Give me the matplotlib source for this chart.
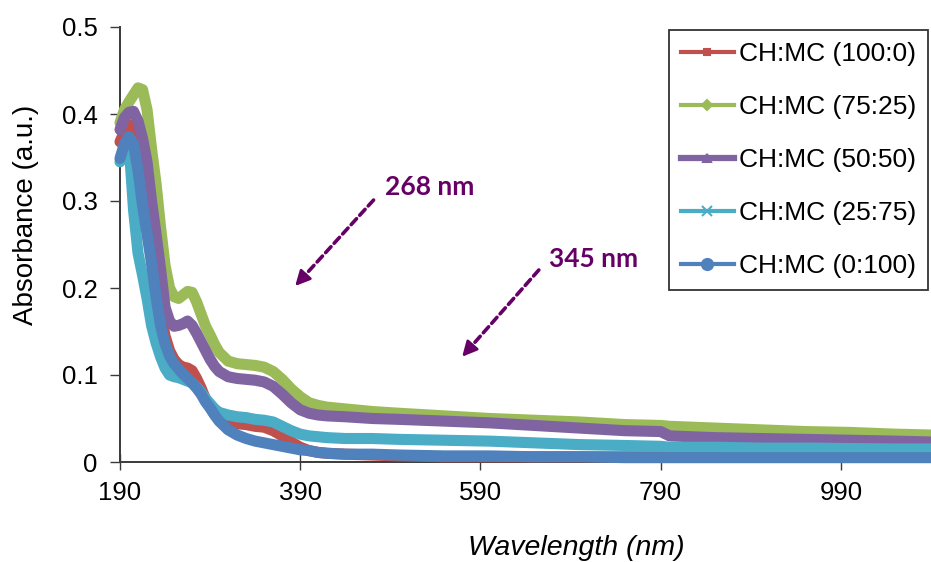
import matplotlib
matplotlib.use("Agg")
import matplotlib.pyplot as plt
from matplotlib.lines import Line2D
from matplotlib.ticker import FuncFormatter

plt.rcParams['font.family'] = ['Liberation Sans', 'DejaVu Sans']

wavelength = [190, 195, 200, 205, 210, 215, 220, 225, 230, 235, 240, 245, 250, 255,
              260, 265, 270, 275, 280, 285, 290, 295, 300, 310, 320, 330, 340, 350,
              360, 370, 380, 390, 400, 410, 420, 440, 470, 500, 550, 600, 650, 700,
              750, 790, 800, 850, 900, 950, 1000, 1050, 1090]

abs_100_0 = [0.368, 0.380, 0.388, 0.385, 0.360, 0.325, 0.290, 0.252, 0.210, 0.172,
             0.145, 0.128, 0.118, 0.112, 0.109, 0.108, 0.105, 0.096, 0.085, 0.072,
             0.063, 0.055, 0.050, 0.046, 0.044, 0.043, 0.041, 0.040, 0.036, 0.030,
             0.023, 0.017, 0.013, 0.011, 0.010, 0.009, 0.008, 0.007, 0.006, 0.006,
             0.006, 0.006, 0.006, 0.006, 0.006, 0.006, 0.006, 0.006, 0.006, 0.006, 0.006]

abs_75_25 = [0.390, 0.405, 0.414, 0.422, 0.430, 0.428, 0.405, 0.360, 0.320, 0.270,
             0.226, 0.200, 0.190, 0.188, 0.192, 0.196, 0.195, 0.184, 0.170, 0.156,
             0.146, 0.135, 0.126, 0.116, 0.113, 0.112, 0.111, 0.109, 0.104, 0.095,
             0.084, 0.075, 0.068, 0.065, 0.063, 0.061, 0.058, 0.056, 0.053, 0.050,
             0.048, 0.046, 0.043, 0.042, 0.041, 0.039, 0.037, 0.035, 0.034, 0.032, 0.031]

abs_50_50 = [0.382, 0.396, 0.402, 0.403, 0.392, 0.372, 0.345, 0.300, 0.262, 0.222,
             0.178, 0.162, 0.156, 0.157, 0.159, 0.162, 0.157, 0.148, 0.138, 0.128,
             0.118, 0.110, 0.104, 0.098, 0.096, 0.095, 0.094, 0.092, 0.087, 0.078,
             0.068, 0.060, 0.056, 0.054, 0.053, 0.052, 0.050, 0.049, 0.047, 0.045,
             0.042, 0.039, 0.036, 0.035, 0.030, 0.028, 0.027, 0.026, 0.025, 0.024, 0.023]

abs_25_75 = [0.345, 0.362, 0.366, 0.290, 0.240, 0.215, 0.188, 0.157, 0.137, 0.121,
             0.108, 0.100, 0.098, 0.097, 0.095, 0.093, 0.091, 0.086, 0.080, 0.073,
             0.067, 0.061, 0.057, 0.054, 0.052, 0.051, 0.049, 0.048, 0.046, 0.041,
             0.036, 0.032, 0.030, 0.029, 0.028, 0.027, 0.027, 0.026, 0.025, 0.024,
             0.022, 0.020, 0.019, 0.018, 0.017, 0.017, 0.016, 0.016, 0.0155, 0.015, 0.015]

abs_0_100 = [0.349, 0.366, 0.374, 0.365, 0.335, 0.295, 0.262, 0.228, 0.190, 0.157,
             0.136, 0.122, 0.113, 0.107, 0.101, 0.096, 0.091, 0.085, 0.078, 0.069,
             0.062, 0.054, 0.047, 0.037, 0.031, 0.027, 0.024, 0.022, 0.020, 0.018,
             0.016, 0.014, 0.013, 0.011, 0.010, 0.009, 0.009, 0.008, 0.007, 0.007,
             0.006, 0.006, 0.005, 0.005, 0.005, 0.005, 0.005, 0.005, 0.005, 0.005, 0.005]

labels = ["CH:MC (100:0)", "CH:MC (75:25)", "CH:MC (50:50)", "CH:MC (25:75)", "CH:MC (0:100)"]
series = [abs_100_0, abs_75_25, abs_50_50, abs_25_75, abs_0_100]
colors = ["#C0504D", "#9BBB59", "#8064A2", "#4BACC6", "#4F81BD"]
markers = ["s", "D", "^", "x", "o"]
msizes = [5, 5, 6, 7, 8]

xticks = [190, 390, 590, 790, 990]
yticks = [0, 0.1, 0.2, 0.3, 0.4, 0.5]

W, H = 931, 562
fig = plt.figure(figsize=(W / 100, H / 100), dpi=100)
ax = fig.add_axes([120 / W, 100 / H, 811 / W, 435 / H])

for y, c in zip(series, colors):
    ax.plot(wavelength, y, color=c, lw=8.0, solid_capstyle='round',
            solid_joinstyle='round', clip_on=False, zorder=3)

ax.set_xlim(190, 1090)
ax.set_ylim(0, 0.5)
ax.set_xticks(xticks)
ax.set_yticks(yticks)
ax.yaxis.set_major_formatter(FuncFormatter(lambda v, p: "0" if v == 0 else f"{v:.1f}"))

for s in ["top", "right"]:
    ax.spines[s].set_visible(False)
for s in ["left", "bottom"]:
    ax.spines[s].set_color("#3a3a3a")
    ax.spines[s].set_linewidth(1.4)

ax.tick_params(axis='y', direction='out', length=7, width=1.0, color="#3a3a3a",
               labelsize=18.5, pad=9)
ax.tick_params(axis='x', direction='inout', length=11, width=1.0, color="#3a3a3a",
               labelsize=18.5, pad=8)

fig.text(26 / W, 1 - 215 / H, "Absorbance (a.u.)", rotation=90, ha='center',
         va='center', fontsize=20)
fig.text(576 / W, 7 / H, "Wavelength (nm)", ha='center', va='baseline',
         fontsize=20.5, style='italic')

ann_color = "#660066"
annots = [("268 nm", (484.4, 0.3069), (471.4, 0.3011), (384.4, 0.2023)),
          ("345 nm", (665.9, 0.2245), (654.8, 0.2207), (569.7, 0.121))]
for txt, tpos, start, tip in annots:
    ax.text(tpos[0], tpos[1], txt, color=ann_color, fontsize=19,
            fontweight='bold', family=['Lato', 'DejaVu Sans'], ha='left', va='baseline')
    ax.annotate("", xy=tip, xytext=start,
                arrowprops=dict(arrowstyle='-', color=ann_color, lw=2.6,
                                linestyle=(0, (2.2, 1.3)), shrinkA=0, shrinkB=4))
    hx = tip[0] + (start[0] - tip[0]) * 0.12
    hy = tip[1] + (start[1] - tip[1]) * 0.12
    ax.annotate("", xy=tip, xytext=(hx, hy),
                arrowprops=dict(arrowstyle='-|>,head_length=0.9,head_width=0.45',
                                color=ann_color, lw=2.0, shrinkA=0, shrinkB=0))

handles = []
for lab, c, m, ms in zip(labels, colors, markers, msizes):
    lw = 4.5 if lab.endswith("(50:50)") else 3.0
    handles.append(Line2D([], [], color=c, lw=lw, marker=m, markersize=ms,
                          markeredgecolor=c, markerfacecolor=c, markeredgewidth=1.5))
leg = fig.legend(handles, labels, loc='upper right',
                 bbox_to_anchor=(928 / W, 1 - 30 / H), fontsize=19,
                 frameon=True, fancybox=False, edgecolor='black',
                 handlelength=2.0, handletextpad=0.2, labelspacing=1.1,
                 borderpad=0.45, borderaxespad=0)
leg.get_frame().set_linewidth(1.3)

fig.savefig("out.png", dpi=100)
